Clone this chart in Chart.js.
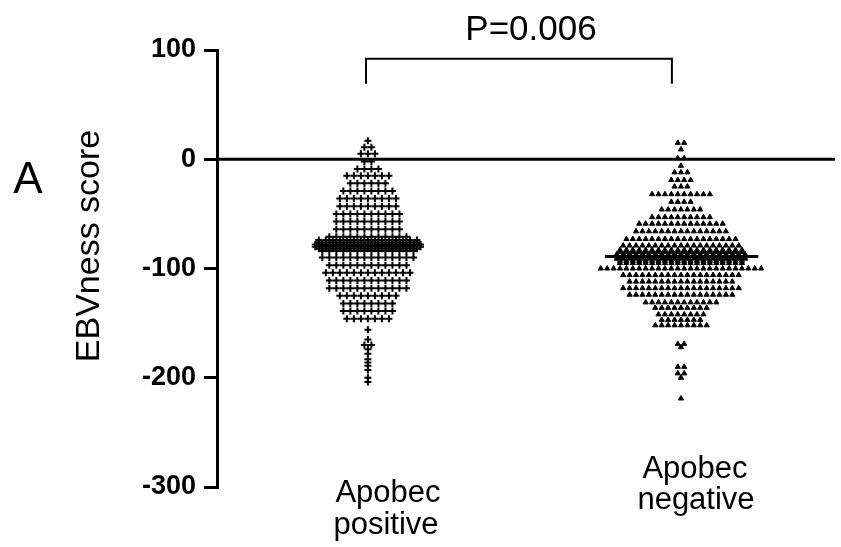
<!DOCTYPE html>
<html lang="en">
<head>
  <meta charset="UTF-8" />
  <title>EBVness score by Apobec status</title>
  <script src="https://cdn.jsdelivr.net/npm/chart.js@4.4.1/dist/chart.umd.min.js"></script>
  <style>
    body { margin: 0; background: #fff; }
    #chart-box { width: 841px; height: 547px; }
  </style>
</head>
<body>
  <div id="chart-box">
    <canvas id="ebv" width="841" height="547"></canvas>
  </div>

  <script>
    // groups on the x axis and their median score
    const groups = [['Apobec', 'positive'], ['Apobec', 'negative']];
    const medians = [-78.5, -89];

    // dot plot rows: score of each row and how many samples sit in it
    const posRows = [17, 11, 5, -2, -9, -15, -22, -29, -36, -43,
      -50, -57, -64, -71, -74, -76, -78, -80, -82, -84,
      -90, -97, -104, -111, -118, -125, -132, -139, -146,
      -156, -165, -170, -174, -178, -183, -186, -189, -193, -200, -204];
    const posCounts = [1, 2, 3, 2, 4, 7, 6, 8, 9, 9,
      10, 10, 10, 12, 15, 15, 16, 16, 15, 14,
      14, 12, 13, 12, 12, 9, 8, 8, 7,
      1, 1, 2, 1, 1, 1, 1, 1, 1, 1, 1];

    const negRows = [15, 9, 1, -6, -12, -19, -25, -32, -39, -46,
      -53, -59, -66, -73, -79, -83, -85, -87, -89, -91,
      -93, -95, -100, -106, -112, -118, -124, -131, -136, -142,
      -147, -152, -169, -172, -190, -196, -200, -219];
    const negCounts = [2, 1, 2, 1, 3, 4, 3, 10, 4, 7,
      10, 14, 15, 18, 19, 20, 20, 21, 21, 21,
      20, 20, 26, 19, 17, 19, 17, 12, 9, 8,
      7, 9, 2, 1, 2, 2, 1, 1];

    const yRange = [-300, 100];
    const yStep = 100;
    const pText = 'P=0.006';

    const FONT = '"Liberation Sans", Arial, sans-serif';

    // spread each row sideways around the group centre
    function swarm(center, rows, counts, gap) {
      const pts = [];
      rows.forEach((y, r) => {
        const n = counts[r];
        for (let i = 0; i < n; i++) {
          pts.push({ x: center + (i - (n - 1) / 2) * gap, y: y });
        }
      });
      return pts;
    }

    function medianLine(center, value, half) {
      return [{ x: center - half, y: value }, { x: center + half, y: value }];
    }

    // zero line, bracket and all free text
    const annotate = {
      id: 'annotate',
      beforeDatasetsDraw(chart) {
        const { ctx, chartArea, scales } = chart;
        const y0 = scales.y.getPixelForValue(0);
        ctx.save();
        ctx.strokeStyle = '#000';
        ctx.lineWidth = 3;
        ctx.beginPath();
        ctx.moveTo(chartArea.left, y0);
        ctx.lineTo(chartArea.right, y0);
        ctx.stroke();
        ctx.restore();
      },
      afterDraw(chart) {
        const { ctx, scales } = chart;
        const xs = scales.x, ys = scales.y;
        ctx.save();
        ctx.fillStyle = '#000';
        ctx.strokeStyle = '#000';

        // significance bracket between the two groups
        const bx1 = xs.getPixelForValue(0.994);
        const bx2 = xs.getPixelForValue(1.971);
        const bTop = ys.getPixelForValue(92);
        const bLeg = ys.getPixelForValue(69);
        ctx.lineWidth = 2;
        ctx.beginPath();
        ctx.moveTo(bx1, bLeg);
        ctx.lineTo(bx1, bTop);
        ctx.lineTo(bx2, bTop);
        ctx.lineTo(bx2, bLeg);
        ctx.stroke();

        ctx.textAlign = 'center';
        ctx.textBaseline = 'alphabetic';
        ctx.font = '35px ' + FONT;
        ctx.fillText(pText, 531, 40);

        // group names
        ctx.font = '31px ' + FONT;
        ctx.fillText(groups[0][0], 388, 502);
        ctx.fillText(groups[0][1], 386, 534);
        ctx.fillText(groups[1][0], 695, 478);
        ctx.fillText(groups[1][1], 696, 509);

        // panel letter
        ctx.font = '44px ' + FONT;
        ctx.fillText('A', 28, 193);

        // axis title
        ctx.translate(99, 246);
        ctx.rotate(-Math.PI / 2);
        ctx.font = '34px ' + FONT;
        ctx.fillText('EBVness score', 0, 0);
        ctx.restore();
      }
    };

    const chart = new Chart(document.getElementById('ebv'), {
      type: 'scatter',
      data: {
        datasets: [
          {
            label: 'Apobec positive',
            data: swarm(1, posRows, posCounts, 0.0224),
            pointStyle: 'cross',
            radius: 3.5,
            borderWidth: 2,
            borderColor: '#000',
            backgroundColor: '#000'
          },
          {
            label: 'Apobec negative',
            data: swarm(2, negRows, negCounts, 0.0205),
            pointStyle: 'triangle',
            radius: 3,
            borderWidth: 1,
            borderColor: '#000',
            backgroundColor: '#000'
          },
          {
            type: 'line',
            label: 'median positive',
            data: medianLine(1, medians[0], 0.17),
            borderColor: '#000',
            borderWidth: 3,
            pointRadius: 0
          },
          {
            type: 'line',
            label: 'median negative',
            data: medianLine(2.002, medians[1], 0.245),
            borderColor: '#000',
            borderWidth: 3,
            pointRadius: 0
          }
        ]
      },
      options: {
        responsive: false,
        animation: false,
        layout: { padding: { top: 50, bottom: 60, left: 0, right: 6 } },
        plugins: {
          legend: { display: false },
          tooltip: { enabled: false }
        },
        scales: {
          x: {
            type: 'linear',
            min: 0.518,
            max: 2.492,
            display: false
          },
          y: {
            min: yRange[0],
            max: yRange[1],
            ticks: {
              stepSize: yStep,
              color: '#000',
              padding: 8,
              font: { family: FONT, size: 27, weight: 'bold' }
            },
            grid: {
              display: true,
              drawOnChartArea: false,
              drawTicks: true,
              tickLength: 13,
              color: '#000',
              lineWidth: 3
            },
            border: { display: true, color: '#000', width: 3 },
            afterFit(scale) { scale.width = 217; }
          }
        }
      },
      plugins: [annotate]
    });
  </script>
</body>
</html>
